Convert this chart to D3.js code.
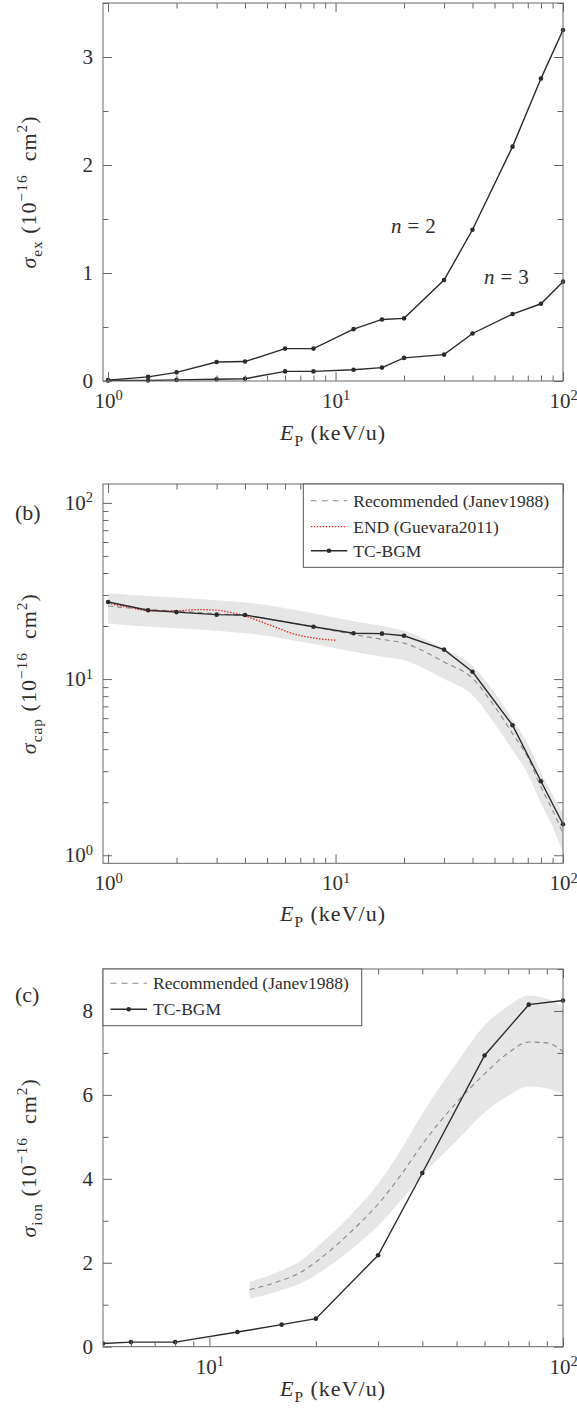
<!DOCTYPE html>
<html>
<head>
<meta charset="utf-8">
<script src="https://cdn.jsdelivr.net/npm/d3@7/dist/d3.min.js"></script>
<style>
  html, body { margin: 0; padding: 0; background: #fff; }
  svg { display: block; }
  text { white-space: pre; }
</style>
</head>
<body>
<svg id="fig" width="577" height="1417"></svg>
<script>
// ---------- (a) excitation, n = 2 and n = 3 ----------
const energyEx = [1, 1.5, 2, 3, 4, 6, 8, 12, 16, 20, 30, 40, 60, 80, 100];
const exN2 = [0.008, 0.038, 0.08, 0.176, 0.18, 0.30, 0.30, 0.48, 0.57, 0.58, 0.935, 1.40, 2.17, 2.80, 3.25];
const exN3 = [0.004, 0.005, 0.010, 0.016, 0.021, 0.089, 0.089, 0.104, 0.124, 0.214, 0.244, 0.44, 0.62, 0.715, 0.92];
const exYTicks = [0, 1, 2, 3];
const exYMinor = [0.5, 1.5, 2.5, 3.5];

// ---------- (b) capture ----------
const energyCap = [1, 1.5, 2, 3, 4, 8, 12, 16, 20, 30, 40, 60, 80, 100];
const capTCBGM = [27.4, 24.6, 24.0, 23.2, 23.1, 19.8, 18.2, 18.1, 17.6, 14.7, 11.0, 5.47, 2.63, 1.50];
const energyCapRec = [1, 1.5, 2, 3, 4, 5, 6, 8, 12, 16, 20, 30, 40, 50, 60, 70, 80, 90, 100];
const capRec   = [26.0, 24.8, 24.3, 23.5, 22.8, 22.0, 21.1, 19.8, 17.9, 16.8, 16.0, 12.5, 10.1, 7.0, 4.9, 3.6, 2.44, 1.80, 1.33];
const capRecHi = [30.7, 29.6, 29.0, 28.0, 27.2, 26.3, 25.2, 23.6, 21.3, 20.0, 18.8, 14.8, 11.9, 8.4, 5.9, 4.3, 2.95, 2.20, 1.72];
const capRecLo = [20.7, 19.8, 19.4, 18.8, 18.2, 17.6, 16.9, 15.8, 14.3, 13.4, 12.8, 10.0, 8.1, 5.6, 3.95, 2.9, 1.97, 1.45, 1.03];
const energyCapEND = [1, 1.3, 1.5, 2, 2.45, 3, 3.55, 4, 4.5, 5.5, 6.5, 8, 10];
const capEND = [26.9, 25.2, 24.4, 24.4, 24.8, 24.6, 23.7, 22.8, 21.6, 19.6, 18.1, 17.1, 16.6];

// ---------- (c) ionization ----------
const energyIon = [5, 6, 8, 12, 16, 20, 30, 40, 60, 80, 100];
const ionTCBGM = [0.075, 0.11, 0.11, 0.35, 0.525, 0.668, 2.18, 4.14, 6.94, 8.15, 8.25];
const energyIonRec = [13, 14.5, 16, 18, 20, 25, 30, 35, 40, 50, 60, 70, 80, 90, 100];
const ionRec   = [1.36, 1.46, 1.58, 1.76, 2.02, 2.72, 3.40, 4.12, 4.82, 5.82, 6.50, 7.00, 7.26, 7.24, 7.03];
const ionRecHi = [1.55, 1.67, 1.82, 2.03, 2.35, 3.12, 3.88, 4.72, 5.55, 6.76, 7.66, 8.12, 8.37, 8.30, 8.11];
const ionRecLo = [1.15, 1.24, 1.35, 1.50, 1.71, 2.30, 2.88, 3.50, 4.08, 4.90, 5.58, 5.98, 6.20, 6.15, 6.03];
const ionYTicks = [0, 2, 4, 6, 8];
const ionYMinor = [1, 3, 5, 7, 9];

// ---------- shared styling ----------
const FONT = "'Liberation Serif', 'Times New Roman', serif";
const INK = "#2e2e2e";
const SPINE = "#666";
const LINE = "#2b2b2b";
const RECC = "#8a8a8a";
const BAND = "#e6e6e6";
const L = 103, R = 563;
const TICK_MAJ = 9, TICK_MIN = 5.5;
const FS_TICK = 21, FS_LAB = 22, FS_LEG = 17.5;

const svg = d3.select("#fig");
const zip = (xs, ys) => xs.map((v, i) => [v, ys[i]]);

function decadeMinors(lo, hi) {
  const out = [];
  for (let e = lo; e < hi; e++) for (let k = 2; k <= 9; k++) out.push(k * Math.pow(10, e));
  return out;
}

// mixed roman / italic / sub / superscript text
function rich(sel, parts, size) {
  let shift = 0;
  parts.forEach(p => {
    const target = p.sup ? -0.40 * size : p.sub ? 0.26 * size : 0;
    const t = sel.append("tspan")
      .attr("dy", (target - shift).toFixed(2))
      .style("font-size", ((p.sup || p.sub) ? size * 0.7 : size) + "px")
      .style("font-style", p.it ? "italic" : "normal")
      .text(p.t);
    if (p.dx) t.attr("dx", p.dx);
    shift = target;
  });
}

function powLabel(textSel, exp) {
  textSel.text(null);
  textSel.append("tspan").text("10");
  textSel.append("tspan").attr("dy", -7.7).style("font-size", "14.5px").text(exp);
}

function styleAxis(a) {
  a.attr("font-size", null).attr("font-family", null);
  a.select(".domain").remove();
  a.selectAll(".tick line").attr("stroke", SPINE).attr("stroke-width", 1);
  a.selectAll(".tick text").attr("fill", INK)
    .style("font-family", FONT).style("font-size", FS_TICK + "px");
  return a;
}

function frame(g, top, bottom, x, y, opt) {
  const xAxes = [
    [d3.axisBottom, bottom, true],
    [d3.axisTop, top, false]
  ];
  xAxes.forEach(([fn, pos, lab]) => {
    styleAxis(g.append("g").attr("transform", `translate(0,${pos})`)
      .call(fn(x).tickValues(opt.xMinor).tickSize(-TICK_MIN).tickSizeOuter(0).tickFormat("")));
    const a = styleAxis(g.append("g").attr("transform", `translate(0,${pos})`)
      .call(fn(x).tickValues(opt.xMajor).tickSize(-TICK_MAJ).tickSizeOuter(0).tickPadding(12)
        .tickFormat(lab ? (d => "x") : "")));
    if (lab) a.selectAll(".tick text").each(function (d) {
      powLabel(d3.select(this), Math.round(Math.log10(d)));
    });
  });
  const yAxes = [
    [d3.axisLeft, L, true],
    [d3.axisRight, R, false]
  ];
  yAxes.forEach(([fn, pos, lab]) => {
    styleAxis(g.append("g").attr("transform", `translate(${pos},0)`)
      .call(fn(y).tickValues(opt.yMinor).tickSize(-TICK_MIN).tickSizeOuter(0).tickFormat("")));
    const a = styleAxis(g.append("g").attr("transform", `translate(${pos},0)`)
      .call(fn(y).tickValues(opt.yMajor).tickSize(-TICK_MAJ).tickSizeOuter(0).tickPadding(10)
        .tickFormat(lab ? (opt.yLog ? (d => "x") : d3.format("d")) : "")));
    if (lab && opt.yLog) a.selectAll(".tick text").each(function (d) {
      powLabel(d3.select(this), Math.round(Math.log10(d)));
    });
  });
  g.append("rect").attr("x", L).attr("y", top).attr("width", R - L).attr("height", bottom - top)
    .attr("fill", "none").attr("stroke", SPINE).attr("stroke-width", 1);
}

function axisTitles(g, top, bottom, xBase, yName) {
  const xt = g.append("text").attr("x", (L + R) / 2).attr("y", xBase)
    .attr("text-anchor", "middle").attr("fill", INK)
    .style("letter-spacing", "1px")
    .style("font-family", FONT).style("font-size", FS_LAB + "px");
  rich(xt, [{ t: "E", it: true }, { t: "P", sub: true }, { t: " (keV/u)" }], FS_LAB);
  const cy = (top + bottom) / 2;
  const yt = g.append("text").attr("transform", `translate(36,${cy}) rotate(-90)`)
    .attr("text-anchor", "middle").attr("fill", INK)
    .style("letter-spacing", "1px")
    .style("font-family", FONT).style("font-size", FS_LAB + "px");
  rich(yt, [{ t: "σ", it: true }, { t: yName, sub: true }, { t: " (10" }, { t: "−16", sup: true },
    { t: "  cm" }, { t: "2", sup: true }, { t: ")" }], FS_LAB);
}

function clipFor(id, top, bottom, pad) {
  svg.append("clipPath").attr("id", id).append("rect")
    .attr("x", L).attr("y", top - pad).attr("width", R - L + pad).attr("height", bottom - top + 2 * pad);
  return `url(#${id})`;
}

function seriesWithMarkers(g, data, x, y, clipLine, clipDots) {
  g.append("path").datum(data).attr("clip-path", clipLine)
    .attr("fill", "none").attr("stroke", LINE).attr("stroke-width", 1.4)
    .attr("d", d3.line().x(d => x(d[0])).y(d => y(d[1])));
  g.append("g").attr("clip-path", clipDots).selectAll("circle").data(data).join("circle")
    .attr("cx", d => x(d[0])).attr("cy", d => y(d[1])).attr("r", 2.3).attr("fill", LINE);
}

function bandAndRec(g, xs, mid, lo, hi, x, y, clip) {
  const pts = xs.map((v, i) => ({ e: v, m: mid[i], lo: lo[i], hi: hi[i] }));
  g.append("path").datum(pts).attr("clip-path", clip).attr("fill", BAND)
    .attr("d", d3.area().curve(d3.curveMonotoneX).x(d => x(d.e)).y0(d => y(d.lo)).y1(d => y(d.hi)));
  return pts;
}

function drawRec(g, pts, x, y, clip) {
  g.append("path").datum(pts).attr("clip-path", clip).attr("fill", "none")
    .attr("stroke", RECC).attr("stroke-width", 1.1).attr("stroke-dasharray", "5,4")
    .attr("d", d3.line().curve(d3.curveMonotoneX).x(d => x(d.e)).y(d => y(d.m)));
}

function legend(g, x0, y0, x1, y1, rows) {
  g.append("rect").attr("x", x0).attr("y", y0).attr("width", x1 - x0).attr("height", y1 - y0)
    .attr("fill", "#fff").attr("stroke", "#555").attr("stroke-width", 1);
  rows.forEach(r => {
    const ln = g.append("line").attr("x1", x0 + 7.5).attr("x2", x0 + 44).attr("y1", r.y).attr("y2", r.y)
      .attr("stroke", r.color).attr("stroke-width", r.w);
    if (r.dash) ln.attr("stroke-dasharray", r.dash);
    if (r.dot) g.append("circle").attr("cx", x0 + 25.7).attr("cy", r.y).attr("r", 2.3).attr("fill", LINE);
    g.append("text").attr("x", x0 + 50).attr("y", r.y + 6).attr("fill", INK)
      .style("font-family", FONT).style("font-size", FS_LEG + "px").text(r.label);
  });
}

// ================= panel (a) =================
{
  const top = 3, bottom = 381;
  const x = d3.scaleLog().domain([0.95, 100]).range([L, R]);
  const y = d3.scaleLinear().domain([0, 3.5]).range([bottom, top]);
  const g = svg.append("g");
  const cl = clipFor("clipA", top, bottom, 0);
  const cd = clipFor("clipAd", top, bottom, 4);
  seriesWithMarkers(g, zip(energyEx, exN2), x, y, cl, cd);
  seriesWithMarkers(g, zip(energyEx, exN3), x, y, cl, cd);
  frame(g, top, bottom, x, y, {
    xMajor: [1, 10, 100], xMinor: decadeMinors(0, 2),
    yMajor: exYTicks, yMinor: exYMinor, yLog: false
  });
  [["2", 391, 233], ["3", 484, 284]].forEach(([n, tx, ty]) => {
    const t = g.append("text").attr("x", tx).attr("y", ty).attr("fill", INK)
      .style("font-family", FONT).style("font-size", "21px");
    t.append("tspan").style("font-style", "italic").text("n");
    t.append("tspan").attr("dx", 6).text("=");
    t.append("tspan").attr("dx", 6).text(n);
  });
  axisTitles(g, top, bottom, 440, "ex");
}

// ================= panel (b) =================
{
  const top = 484, bottom = 863.3;
  const x = d3.scaleLog().domain([0.95, 100]).range([L, R]);
  const y = d3.scaleLog().domain([0.9, 128]).range([bottom, top]);
  const g = svg.append("g");
  const cl = clipFor("clipB", top, bottom, 0);
  const cd = clipFor("clipBd", top, bottom, 4);
  const pts = bandAndRec(g, energyCapRec, capRec, capRecLo, capRecHi, x, y, cl);
  drawRec(g, pts, x, y, cl);
  g.append("path").datum(zip(energyCapEND, capEND)).attr("clip-path", cl).attr("fill", "none")
    .attr("stroke", "#ee1c1c").attr("stroke-width", 1.3).attr("stroke-dasharray", "1.4,1.6")
    .attr("d", d3.line().curve(d3.curveMonotoneX).x(d => x(d[0])).y(d => y(d[1])));
  seriesWithMarkers(g, zip(energyCap, capTCBGM), x, y, cl, cd);
  frame(g, top, bottom, x, y, {
    xMajor: [1, 10, 100], xMinor: decadeMinors(0, 2),
    yMajor: [1, 10, 100], yMinor: decadeMinors(0, 2).filter(v => v < 128), yLog: true
  });
  legend(g, 303.3, top, R, 567.3, [
    { y: 500.7, color: RECC, w: 1.1, dash: "6,5", label: "Recommended (Janev1988)" },
    { y: 526.7, color: "#ee1c1c", w: 1.3, dash: "1.4,1.6", label: "END (Guevara2011)" },
    { y: 550.7, color: LINE, w: 1.4, dot: true, label: "TC-BGM" }
  ]);
  g.append("text").attr("x", 15).attr("y", 520).attr("fill", INK)
    .style("font-family", FONT).style("font-size", "22px").text("(b)");
  axisTitles(g, top, bottom, 921, "cap");
}

// ================= panel (c) =================
{
  const top = 969, bottom = 1346.7;
  const x = d3.scaleLog().domain([5, 100]).range([L, R]);
  const y = d3.scaleLinear().domain([0, 9]).range([bottom, top]);
  const g = svg.append("g");
  const cl = clipFor("clipC", top, bottom, 0);
  const cd = clipFor("clipCd", top, bottom, 4);
  const pts = bandAndRec(g, energyIonRec, ionRec, ionRecLo, ionRecHi, x, y, cl);
  drawRec(g, pts, x, y, cl);
  seriesWithMarkers(g, zip(energyIon, ionTCBGM), x, y, cl, cd);
  frame(g, top, bottom, x, y, {
    xMajor: [10, 100], xMinor: decadeMinors(0, 2).filter(v => v > 5),
    yMajor: ionYTicks, yMinor: ionYMinor, yLog: false
  });
  legend(g, L, top, 361.7, 1025.7, [
    { y: 983.3, color: RECC, w: 1.1, dash: "6,5", label: "Recommended (Janev1988)" },
    { y: 1009.3, color: LINE, w: 1.4, dot: true, label: "TC-BGM" }
  ]);
  g.append("text").attr("x", 15).attr("y", 1002).attr("fill", INK)
    .style("font-family", FONT).style("font-size", "22px").text("(c)");
  axisTitles(g, top, bottom, 1396, "ion");
}
</script>
</body>
</html>
